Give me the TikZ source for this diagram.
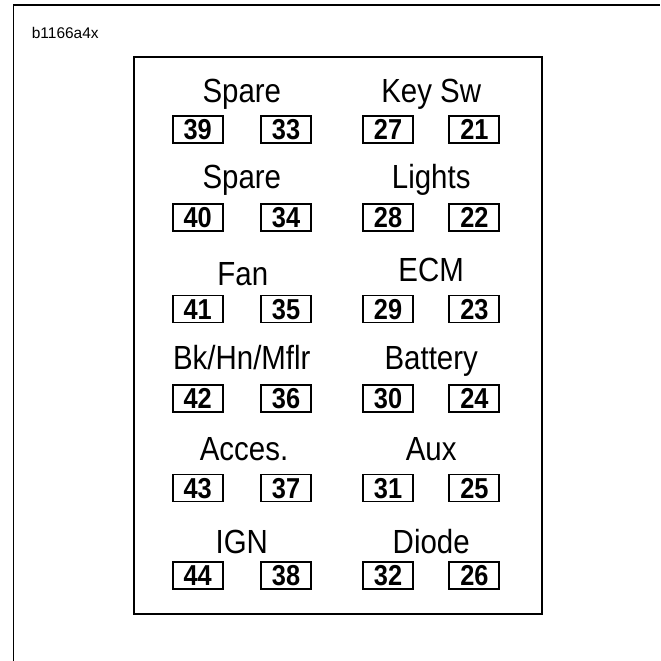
\documentclass[tikz,border=0pt]{standalone}
\usepackage{fontspec}
\setmainfont{Liberation Sans}[FakeStretch=0.88]
\newfontfamily\tagfont{Liberation Sans}
\usepackage{tikz}
\usetikzlibrary{positioning}

\begin{document}
\begin{tikzpicture}[
lb/.style={anchor=base, inner sep=0pt, font=\fontsize{23.8}{26}\selectfont},
pin/.style={draw, line width=1.3pt, minimum width=1.25cm, minimum height=0.675cm, inner sep=0pt,
  text height=0.5cm, text depth=0pt, font=\fontsize{20.5}{22}\selectfont\bfseries},
fr/.style={line width=1.3pt}
]
\useasboundingbox (0,0) rectangle (16.5,-16.525);
\draw[fr] (0.3375,-16.525) -- (0.3375,-0.118) -- (16.5,-0.118);
\node[anchor=base west, inner sep=0pt, font=\tagfont\fontsize{11}{13}\selectfont] (tag) at (0.79,-0.96) {b1166a4x};
\draw[fr] (3.35,-1.425) rectangle (13.54,-15.36);
% row 1
\node[lb] (l1)  at ( 6.045,-2.558) {Spare};
\node[lb] (r1)  at (10.78,-2.558) {Key Sw};
\node[pin] (p39) at ( 4.94,-3.23) {39};
\node[pin] (p33) at ( 7.15,-3.23) {33};
\node[pin] (p27) at ( 9.70,-3.23) {27};
\node[pin] (p21) at (11.86,-3.23) {21};
% row 2
\node[lb] (l2)  at ( 6.045,-4.713) {Spare};
\node[lb] (r2)  at (10.78,-4.713) {Lights};
\node[pin] (p40) at ( 4.94,-5.44) {40};
\node[pin] (p34) at ( 7.15,-5.44) {34};
\node[pin] (p28) at ( 9.70,-5.44) {28};
\node[pin] (p22) at (11.86,-5.44) {22};
% row 3
\node[lb] (l3)  at ( 6.07,-7.15) {Fan};
\node[lb] (r3)  at (10.78,-7.04) {ECM};
\node[pin] (p41) at ( 4.94,-7.725) {41};
\node[pin] (p35) at ( 7.15,-7.725) {35};
\node[pin] (p29) at ( 9.70,-7.725) {29};
\node[pin] (p23) at (11.86,-7.725) {23};
% row 4
\node[lb] (l4)  at ( 6.045,-9.225) {Bk/Hn/Mflr};
\node[lb] (r4)  at (10.78,-9.225) {Battery};
\node[pin] (p42) at ( 4.94,-9.96) {42};
\node[pin] (p36) at ( 7.15,-9.96) {36};
\node[pin] (p30) at ( 9.70,-9.96) {30};
\node[pin] (p24) at (11.86,-9.96) {24};
% row 5
\node[lb] (l5)  at ( 6.1,-11.52) {Acces.};
\node[lb] (r5)  at (10.78,-11.52) {Aux};
\node[pin] (p43) at ( 4.94,-12.2) {43};
\node[pin] (p37) at ( 7.15,-12.2) {37};
\node[pin] (p31) at ( 9.70,-12.2) {31};
\node[pin] (p25) at (11.86,-12.2) {25};
% row 6
\node[lb] (l6)  at ( 6.045,-13.83) {IGN};
\node[lb] (r6)  at (10.78,-13.83) {Diode};
\node[pin] (p44) at ( 4.94,-14.39) {44};
\node[pin] (p38) at ( 7.15,-14.39) {38};
\node[pin] (p32) at ( 9.70,-14.39) {32};
\node[pin] (p26) at (11.86,-14.39) {26};
\end{tikzpicture}
\end{document}
